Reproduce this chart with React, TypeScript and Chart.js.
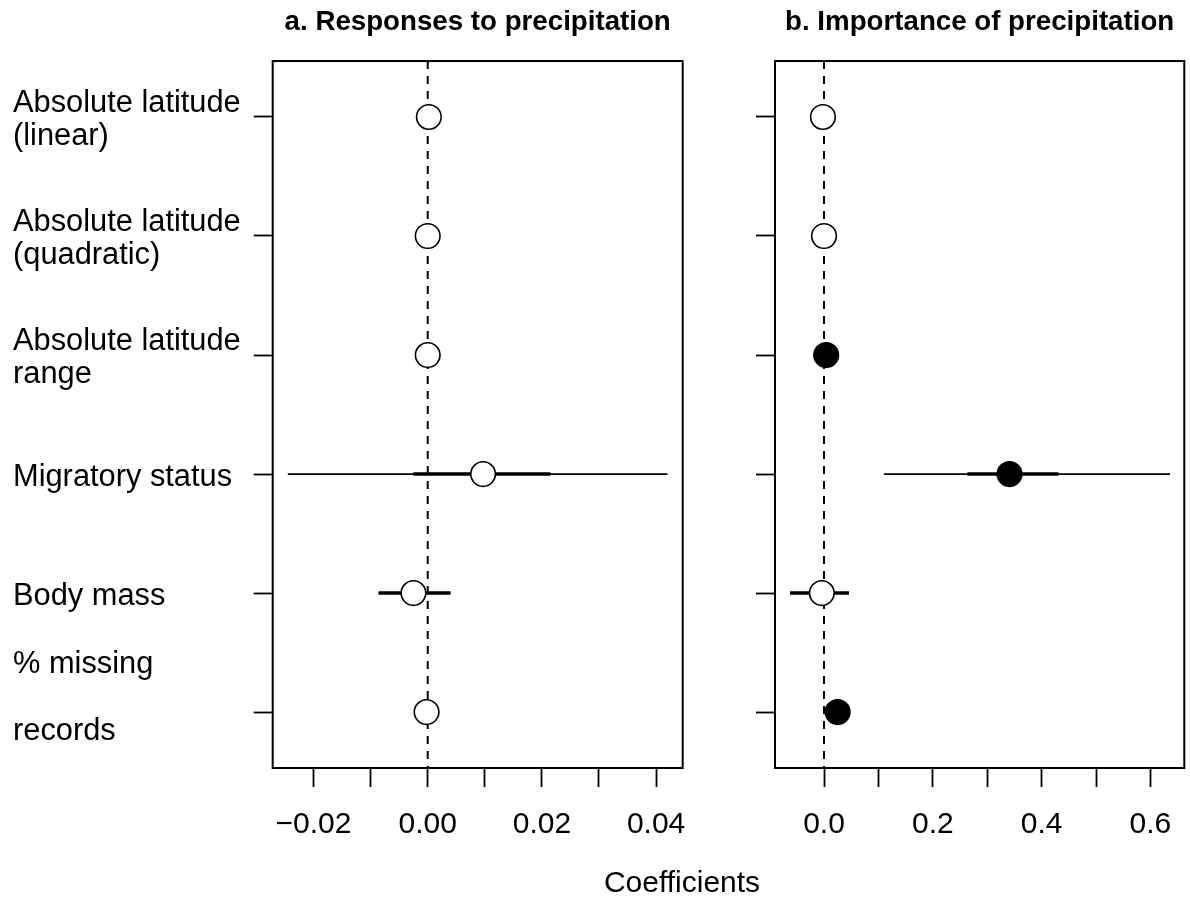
import React, { useEffect, useRef } from 'react';
import { Chart, registerables } from 'chart.js';

Chart.register(...registerables);

const FONT = "'Liberation Sans', Arial, Helvetica, sans-serif";

// ---------- data ----------
const ROWS = [1, 2, 3, 4, 5, 6];
const categories = [
  ['Absolute latitude', '(linear)'],
  ['Absolute latitude', '(quadratic)'],
  ['Absolute latitude', 'range'],
  ['Migratory status'],
  ['Body mass'],
  ['% missing', '', 'records', ''],
];

// Panel a: responses to precipitation
const aEst = [0.0002, 0.0, 0.0, 0.0097, -0.0025, -0.0002];
const aLo95 = [0.0, -0.0002, -0.0002, -0.0245, -0.0086, -0.0004];
const aHi95 = [0.0004, 0.0002, 0.0002, 0.042, 0.004, 0.0];
const aLo50 = [0.0001, -0.0001, -0.0001, -0.0025, -0.0086, -0.0003];
const aHi50 = [0.0003, 0.0001, 0.0001, 0.0215, 0.004, -0.0001];
const aFilled = [false, false, false, false, false, false];
const aTicks = [-0.02, -0.01, 0.0, 0.01, 0.02, 0.03, 0.04];
const aTickLabels = ['\u22120.02', '', '0.00', '', '0.02', '', '0.04'];

// Panel b: importance of precipitation
const bEst = [-0.002, 0.0, 0.004, 0.341, -0.004, 0.025];
const bLo95 = [-0.006, -0.004, 0.0, 0.11, -0.0625, 0.02];
const bHi95 = [0.002, 0.004, 0.008, 0.636, 0.046, 0.03];
const bLo50 = [-0.004, -0.002, 0.002, 0.2635, -0.0625, 0.022];
const bHi50 = [0.0, 0.002, 0.006, 0.431, 0.046, 0.028];
const bFilled = [false, false, true, true, false, true];
const bTicks = [0.0, 0.1, 0.2, 0.3, 0.4, 0.5, 0.6];
const bTickLabels = ['0.0', '', '0.2', '', '0.4', '', '0.6'];

const Y_MIN = 0.53;
const Y_MAX = 6.47;

const boxPlugin = {
  id: 'boxPlugin',
  afterDraw(chart: any) {
    const { ctx, chartArea: a } = chart;
    ctx.save();
    ctx.strokeStyle = '#000';
    ctx.lineWidth = 2;
    ctx.strokeRect(a.left, a.top, a.right - a.left, a.bottom - a.top);
    ctx.restore();
  },
};

type PanelProps = {
  est: number[]; lo95: number[]; hi95: number[]; lo50: number[]; hi50: number[];
  filled: boolean[]; xMin: number; xMax: number; ticks: number[]; tickLabels: string[];
  title: string; showLabels: boolean; left: number; width: number;
  padLeft: number; padRight: number; yWidth: number;
};

function Panel(p: PanelProps) {
  const ref = useRef<HTMLCanvasElement | null>(null);
  useEffect(() => {
    if (!ref.current) return;
    const thin = ROWS.map((r, i) => ({
      data: [{ x: p.lo95[i], y: r }, { x: p.hi95[i], y: r }],
      showLine: true, borderColor: '#000', borderWidth: 1.7, pointRadius: 0,
      pointHoverRadius: 0, order: 3,
    }));
    const thick = ROWS.map((r, i) => ({
      data: [{ x: p.lo50[i], y: r }, { x: p.hi50[i], y: r }],
      showLine: true, borderColor: '#000', borderWidth: 3.6, pointRadius: 0,
      pointHoverRadius: 0, order: 2,
    }));
    const zero = {
      data: [{ x: 0, y: Y_MIN }, { x: 0, y: Y_MAX }],
      showLine: true, borderColor: '#000', borderWidth: 2, borderDash: [8, 7],
      pointRadius: 0, pointHoverRadius: 0, order: 1,
    };
    const pts = {
      data: ROWS.map((r, i) => ({ x: p.est[i], y: r })),
      showLine: false, pointRadius: 12.3, pointHoverRadius: 12.3, pointBorderWidth: 1.6,
      pointBorderColor: '#000',
      pointBackgroundColor: p.filled.map((f) => (f ? '#000' : '#fff')),
      order: 0,
    };
    const chart = new Chart(ref.current, {
      type: 'scatter',
      data: { datasets: [pts, zero, ...thick, ...thin] as any },
      plugins: [boxPlugin],
      options: {
        animation: false,
        responsive: false,
        devicePixelRatio: 1,
        events: [],
        layout: { padding: { left: p.padLeft, right: p.padRight, top: 0, bottom: 0 } },
        plugins: {
          legend: { display: false },
          tooltip: { enabled: false },
          title: {
            display: true,
            text: p.title,
            fullSize: false,
            color: '#000',
            font: { family: FONT, size: 27.7, weight: 'bold' },
            padding: { top: 6, bottom: 21.8 },
          },
        },
        scales: {
          x: {
            type: 'linear',
            min: p.xMin,
            max: p.xMax,
            afterBuildTicks: (s: any) => { s.ticks = p.ticks.map((v) => ({ value: v })); },
            afterFit: (s: any) => { s.height = 131; },
            ticks: {
              autoSkip: false, maxRotation: 0, minRotation: 0,
              callback: (_v: any, i: number) => p.tickLabels[i],
              color: '#000', font: { family: FONT, size: 30 }, padding: 20,
            },
            grid: { drawOnChartArea: false, drawTicks: true, tickLength: 19, tickColor: '#000', tickWidth: 1.8 },
            border: { display: false },
          },
          y: {
            type: 'linear',
            reverse: true,
            min: Y_MIN,
            max: Y_MAX,
            afterBuildTicks: (s: any) => { s.ticks = ROWS.map((v) => ({ value: v })); },
            afterFit: (s: any) => { s.width = p.yWidth; s.paddingTop = 0; s.paddingBottom = 0; },
            ticks: {
              autoSkip: false,
              crossAlign: 'far',
              labelOffset: 3,
              callback: (_v: any, i: number) => (p.showLabels ? categories[i] : ''),
              color: '#000', font: { family: FONT, size: 30.8, lineHeight: 1.1 },
            },
            grid: { drawOnChartArea: false, drawTicks: true, tickLength: 19, tickColor: '#000', tickWidth: 1.8 },
            border: { display: false },
          },
        },
      } as any,
    });
    return () => chart.destroy();
  }, []);
  return (
    <canvas
      ref={ref}
      width={p.width}
      height={899}
      style={{ position: 'absolute', left: p.left, top: 0, width: p.width, height: 899 }}
    />
  );
}

export default function App() {
  return (
    <div style={{ position: 'absolute', left: 0, top: 0, width: 1190, height: 899, background: '#fff', overflow: 'hidden' }}>
      <Panel
        est={aEst} lo95={aLo95} hi95={aHi95} lo50={aLo50} hi50={aHi50} filled={aFilled}
        xMin={-0.02715} xMax={0.04466} ticks={aTicks} tickLabels={aTickLabels}
        title="a. Responses to precipitation" showLabels={true}
        left={0} width={730} padLeft={13} padRight={47.3} yWidth={259.7}
      />
      <Panel
        est={bEst} lo95={bLo95} hi95={bHi95} lo50={bLo50} hi50={bHi50} filled={bFilled}
        xMin={-0.0901} xMax={0.6623} ticks={bTicks} tickLabels={bTickLabels}
        title="b. Importance of precipitation" showLabels={false}
        left={700} width={530} padLeft={0} padRight={45.7} yWidth={75}
      />
      <div
        style={{
          position: 'absolute', left: 582, top: 867, width: 200, textAlign: 'center',
          fontFamily: FONT, fontSize: 30, lineHeight: '30px', color: '#000',
        }}
      >
        Coefficients
      </div>
    </div>
  );
}
